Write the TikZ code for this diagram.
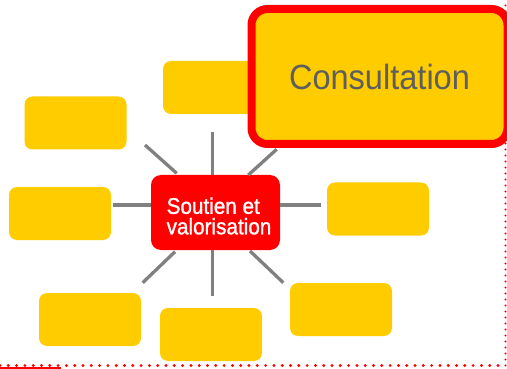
\documentclass[tikz,border=0pt]{standalone}
\usepackage{fontspec}
\newfontfamily\narrowfont[FakeStretch=0.93]{Liberation Sans}
\newfontfamily\narrowbold[FakeStretch=0.92,FakeBold=1.2]{Liberation Sans}
\definecolor{boxyellow}{HTML}{FFCC00}
\definecolor{hubred}{HTML}{FF0000}
\definecolor{spokegray}{HTML}{808080}
\definecolor{textgray}{HTML}{5E5E5E}
\begin{document}
\begin{tikzpicture}[x=1pt,y=-1pt,
  leaf/.style={fill=boxyellow, rounded corners=8pt, minimum width=102pt, minimum height=53pt, inner sep=0pt},
  hub/.style={fill=hubred, rounded corners=10pt, minimum width=129pt, minimum height=75pt, inner sep=0pt},
  hubtext/.style={text=white, font=\narrowbold\fontsize{22.5}{20.5}\selectfont, align=left, inner sep=0pt},
  spoke/.style={draw=spokegray, line width=3.3pt},
  focus/.style={fill=boxyellow, draw=hubred, line width=8pt, rounded corners=16pt,
    minimum width=256pt, minimum height=135pt, inner sep=0pt, text=textgray,
    font=\narrowfont\fontsize{35}{40}\selectfont},
  frame/.style={draw=hubred, line width=3.2pt, line cap=round, dash pattern=on 0pt off 8.3pt}
]
\useasboundingbox (0,0) rectangle (507,369);
% frame
\coordinate (f0) at (0,365.5);
\coordinate (f1) at (505.5,365.5);
\coordinate (f2) at (505.5,0);
\draw[frame] (f0) -- (f1);
\draw[frame, line width=2.2pt, dash pattern=on 0pt off 6pt] (f1) -- (f2);
\coordinate (s0) at (0,368);
\coordinate (s1) at (61,368);
\draw[draw=hubred, line width=3pt] (s0) -- (s1);
% hub
\node[hub] (hub) at (215.5,212.5) {};
\node[hubtext] (hubt) at (219,216) {Soutien et\\valorisation};
% spoke ends
\coordinate (eN) at (212.3,131.7);
\coordinate (eS) at (212.3,296);
\coordinate (eW) at (112.7,205);
\coordinate (eE) at (321,205);
\coordinate (eNW) at (145,145);
\coordinate (eNE) at (276.7,149.3);
\coordinate (eSW) at (142.7,282.7);
\coordinate (eSE) at (283.3,282.7);
\coordinate (hN) at (212.3,175);
\coordinate (hS) at (212.3,250);
\coordinate (hW) at (151,205);
\coordinate (hE) at (280,205);
\coordinate (hNW) at (176.7,173.3);
\coordinate (hNE) at (248.3,175);
\coordinate (hSW) at (175,251.7);
\coordinate (hSE) at (250,251);
\foreach \d in {N,S,W,E,NW,NE,SW,SE} {\draw[spoke] (h\d) -- (e\d);}
% leaves
\node[leaf] (tl) at (75.5,123) {};
\node[leaf] (tm) at (214,87.5) {};
\node[leaf] (lm) at (60,213.5) {};
\node[leaf] (rm) at (378,209) {};
\node[leaf] (bl) at (90,319.5) {};
\node[leaf] (bm) at (211,334.5) {};
\node[leaf] (br) at (341,309.5) {};
% focus box
\node[focus] (cons) at (379.5,76.5) {Consultation};
\end{tikzpicture}
\end{document}
